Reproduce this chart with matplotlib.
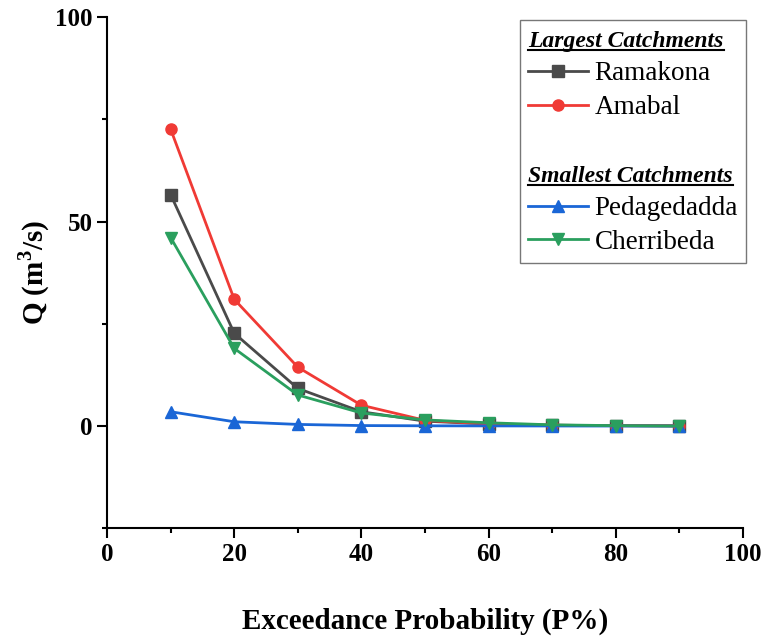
import matplotlib.pyplot as plt
from matplotlib.ticker import MultipleLocator
from matplotlib.lines import Line2D

plt.rcParams['font.family'] = ['Liberation Serif', 'DejaVu Serif']
plt.rcParams['mathtext.fontset'] = 'custom'
plt.rcParams['mathtext.rm'] = 'Liberation Serif'
plt.rcParams['mathtext.bf'] = 'Liberation Serif:bold'

# exceedance probability (%)
prob = [10, 20, 30, 40, 50, 60, 70, 80, 90]

# discharge Q (m3/s)
ramakona = [56.6, 22.7, 9.2, 3.5, 1.2, 0.5, 0.2, 0.1, 0.05]
amabal = [72.6, 31.0, 14.4, 5.1, 1.4, 0.5, 0.2, 0.1, 0.05]
pedagedadda = [3.5, 1.05, 0.4, 0.12, 0.06, 0.04, 0.02, 0.01, 0.0]
cherribeda = [46.1, 19.0, 7.6, 3.2, 1.5, 0.8, 0.3, 0.1, 0.0]

series = [
    ('Ramakona', ramakona, '#4a4a4a', 's'),
    ('Amabal', amabal, '#f03a35', 'o'),
    ('Pedagedadda', pedagedadda, '#1a66d6', '^'),
    ('Cherribeda', cherribeda, '#2a9f5e', 'v'),
]
headers = ['Largest Catchments', 'Smallest Catchments']

fig = plt.figure(figsize=(7.65, 6.38), dpi=100)
ax = fig.add_axes([0.14, 0.172, 0.831, 0.801])

for name, vals, col, mk in series:
    ax.plot(prob, vals, color=col, marker=mk, markersize=8, linewidth=2, label=name)

ax.set_xlim(0, 100)
ax.set_ylim(-25, 100)
ax.xaxis.set_major_locator(MultipleLocator(20))
ax.xaxis.set_minor_locator(MultipleLocator(10))
ax.yaxis.set_major_locator(MultipleLocator(50))
ax.yaxis.set_minor_locator(MultipleLocator(25))
ax.tick_params(which='major', direction='out', length=7, width=1.5, labelsize=18)
ax.tick_params(which='minor', direction='out', length=3.6, width=1.5)
for lab in ax.get_xticklabels() + ax.get_yticklabels():
    lab.set_fontweight('bold')
ax.spines['top'].set_visible(False)
ax.spines['right'].set_visible(False)
ax.spines['left'].set_linewidth(1.5)
ax.spines['bottom'].set_linewidth(1.5)

ax.set_xlabel('Exceedance Probability (P%)', fontsize=21, fontweight='bold', labelpad=30)
ax.set_ylabel(r'Q (m$^\mathbf{3}$/s)', fontsize=21, fontweight='bold', labelpad=2)

# legend with two group headers
handles, labels = ax.get_legend_handles_labels()
blank = Line2D([], [], linestyle='none')
leg_handles = [blank, handles[0], handles[1], blank, blank, handles[2], handles[3]]
leg_labels = [headers[0], 'Ramakona', 'Amabal', '', headers[1], 'Pedagedadda', 'Cherribeda']
leg = ax.legend(leg_handles, leg_labels, loc='upper right', bbox_to_anchor=(1.005, 0.994),
                fontsize=19.5, frameon=True, fancybox=False, edgecolor='#555555',
                handlelength=2.2, handletextpad=0.25, borderpad=0.3, labelspacing=0.33,
                borderaxespad=0)
leg.get_frame().set_linewidth(1.0)
for t in leg.get_texts():
    if t.get_text() in headers:
        t.set_fontweight('bold')
        t.set_fontstyle('italic')
        t.set_fontsize(17)

# headers start at the left edge of the legend (no handle space)
for col in leg._legend_handle_box.get_children():
    for row in col.get_children():
        area, txt = row.get_children()
        if txt._text.get_text() in headers:
            area.width = 0
            row.sep = 0

fig.canvas.draw()
# underline the headers
rend = fig.canvas.get_renderer()
for t in leg.get_texts():
    if t.get_text() in headers:
        bb = t.get_window_extent(rend).transformed(fig.transFigure.inverted())
        fig.add_artist(Line2D([bb.x0, bb.x1], [bb.y0 + 0.004, bb.y0 + 0.004],
                              transform=fig.transFigure, color='black', linewidth=1.5))

fig.savefig('out.png', dpi=100)
